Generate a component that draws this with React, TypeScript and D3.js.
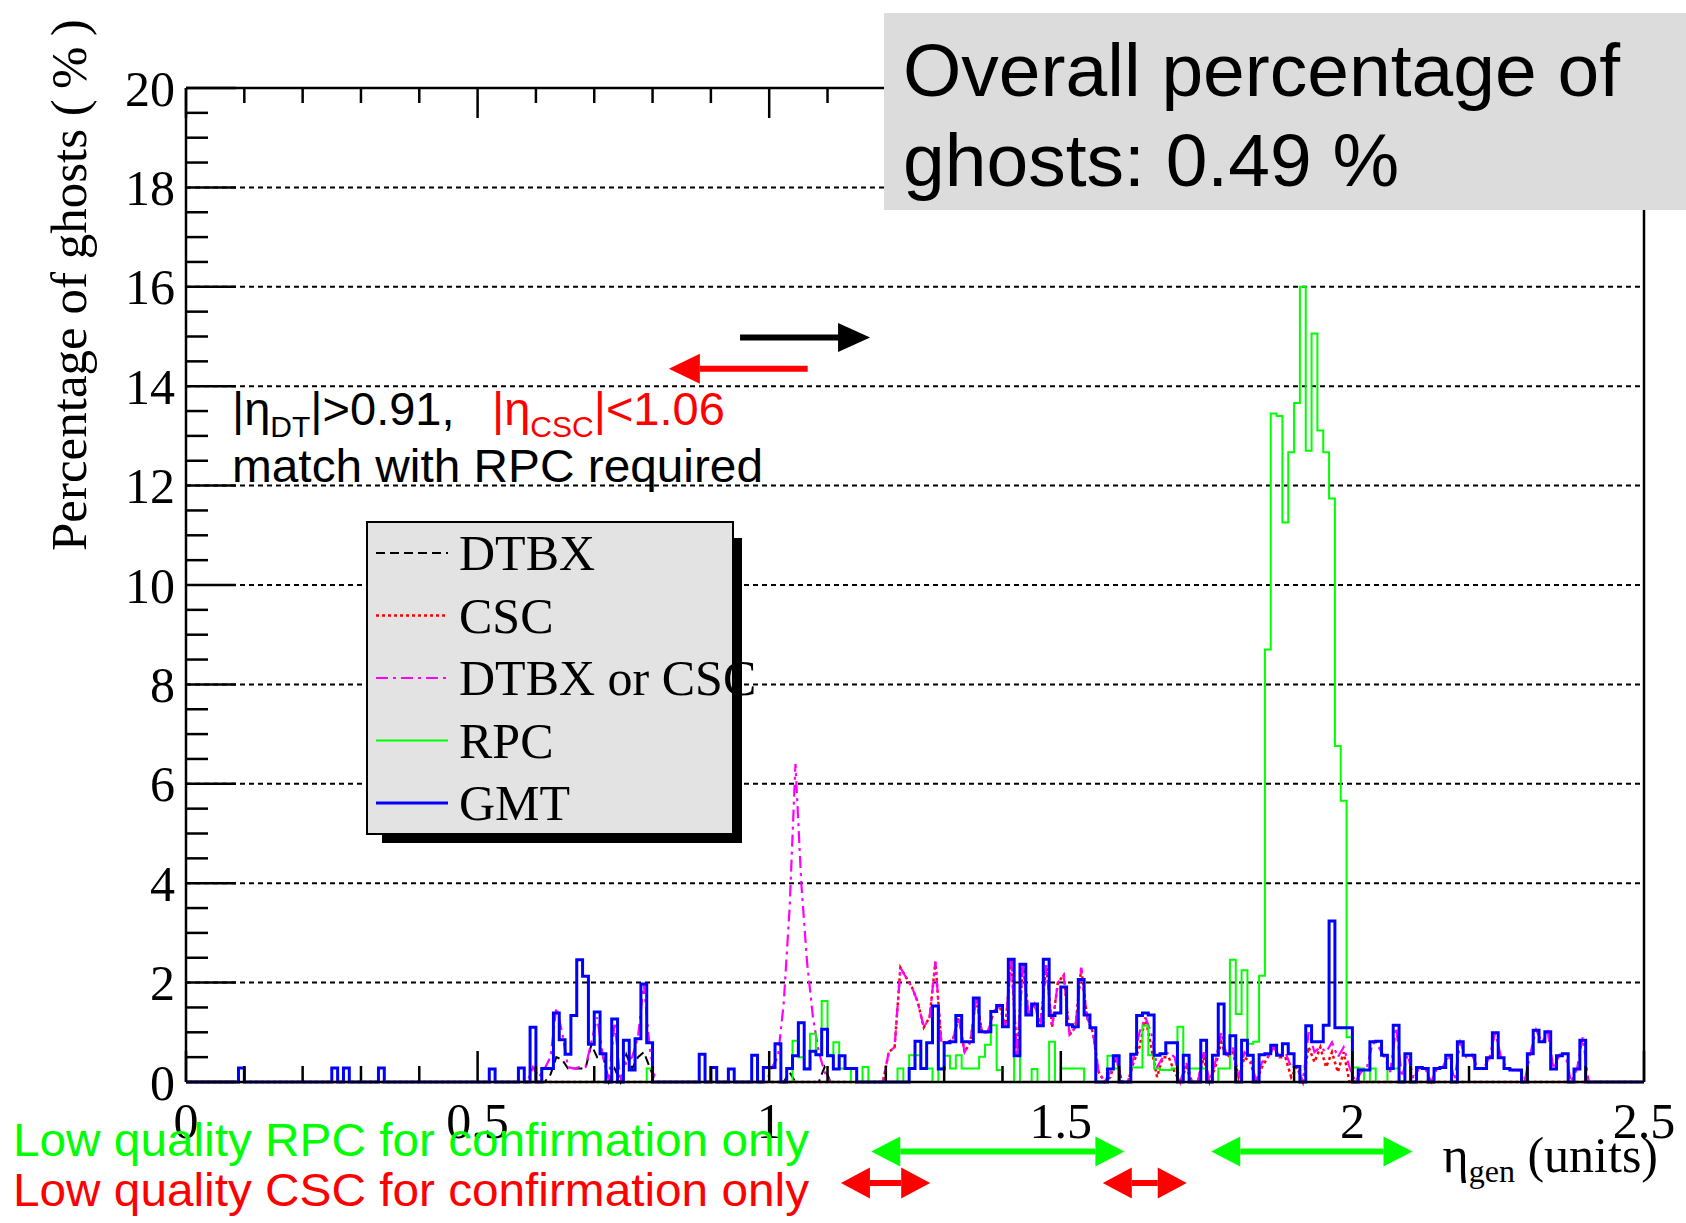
import React from 'react';
import * as d3 from 'd3';

// ---------- data ----------
const nBins = 250;
const binWidth = 0.01;
const xDomain = [0, 2.5];
const yDomain = [0, 20];
const xMajorTicks = [0, 0.5, 1, 1.5, 2, 2.5];
const xTickLabels = ['0', '0.5', '1', '1.5', '2', '2.5'];
const yMajorTicks = [0, 2, 4, 6, 8, 10, 12, 14, 16, 18, 20];
const yTickLabels = ['0', '2', '4', '6', '8', '10', '12', '14', '16', '18', '20'];
const gridValues = [2, 4, 6, 8, 10, 12, 14, 16, 18];

// GMT (blue, histogram)
const gmt = [
  0,0,0,0,0,0,0,0,0,0.28,
  0,0,0,0,0,0,0,0,0,0,
  0,0,0,0,0,0.28,0,0.28,0,0,
  0,0,0,0.28,0,0,0,0,0,0,
  0,0,0,0,0,0,0,0,0,0,
  0,0,0.26,0,0,0,0,0.28,0,1.1,
  0,0.27,0.27,1.39,0.85,0.56,1.34,2.46,2.13,0.76,
  1.41,0.57,0,1.27,0,0.84,0.24,0.87,1.97,0.79,
  0,0,0,0,0,0,0,0,0.56,0,
  0.29,0,0,0.26,0,0,0,0.54,0,0.29,
  0.29,0.77,0,0.27,0.53,1.19,0.26,0.62,0.55,1.06,
  0.53,0.26,0.53,0.27,0.27,0,0,0,0,0,
  0,0,0,0,0.27,0.82,0.27,0.79,1.53,0.26,
  0.79,0.81,1.34,0.81,0.81,1.69,1.01,1.01,1.42,1.54,
  1.11,2.47,0.53,2.37,1.35,1.57,1.13,2.47,1.34,1.39,
  1.91,1.15,1.11,2.06,1.35,1.09,0,0,0.26,0.53,
  0,0,0.56,1.34,1.39,1.35,0.54,0.57,0.79,0.79,
  0,0.54,0,0,0.84,0,0.54,1.57,0.57,0.93,
  0,0.84,0.54,0,0.55,0.57,0.74,0.54,0.77,0.57,
  0.31,0,1.13,0.81,0.81,1.14,3.24,1.09,1.09,1.09,
  0,0.24,0.24,0.81,0.82,0.54,0.27,1.14,0,0.57,
  0,0.29,0.27,0,0.27,0.29,0.54,0,0.81,0.54,
  0.54,0.27,0.27,0.49,0.99,0.49,0.27,0.24,0.24,0,
  0.57,1.04,0.81,1.01,0.26,0.53,0.57,0,0.26,0.84,
  0,0,0,0,0,0,0,0,0,0,
];

// RPC (green, histogram)
const rpc = [
  0,0,0,0,0,0,0,0,0,0,
  0,0,0,0,0,0,0,0,0,0,
  0,0,0,0,0,0,0,0,0,0,
  0,0,0,0,0,0,0,0,0,0,
  0,0,0,0,0,0,0,0,0,0,
  0,0,0,0,0,0,0,0,0,0,
  0,0,0,0,0,0,0,0,0,0,
  0,0,0,0,0,0,0,0,0,0.27,
  0,0,0,0,0,0,0,0,0,0,
  0,0,0,0,0,0,0,0,0,0,
  0,0,0,0,0.83,0.5,0.27,0.97,0.55,1.63,
  0.55,0.8,0.27,0.27,0,0,0.3,0,0,0,
  0,0,0.27,0,0.54,0.54,0.27,0.27,0,0.27,
  0.53,0.27,0.54,0.27,0.27,0.27,0.51,0.75,1.14,0.24,
  0,0,0.53,0,0,0.26,0,0,0.81,0,
  0.27,0.27,0.27,0.27,0,0,0,0,0.53,0.27,
  0,0,0.29,0.29,1.13,0.54,0.27,0.24,0.24,0.27,
  1.11,0.54,0.27,0.27,0.27,0,0,0.27,0.27,2.46,
  1.37,2.25,0.77,0.81,2.14,8.7,13.45,13.4,11.26,12.67,
  13.66,16.0,12.7,15.06,13.11,12.67,11.74,6.76,5.66,0.9,
  0.29,0.27,0,0.27,0,0,0.27,0.27,0,0,
  0,0,0,0,0,0,0,0,0,0,
  0,0,0,0,0,0,0,0,0,0,
  0,0,0,0,0,0,0,0,0,0,
  0,0,0,0,0,0,0,0,0,0,
];

// CSC (red dotted, polyline)
const csc = [
  0,0,0,0,0,0,0,0,0,0,
  0,0,0,0,0,0,0,0,0,0,
  0,0,0,0,0,0,0,0,0,0,
  0,0,0,0,0,0,0,0,0,0,
  0,0,0,0,0,0,0,0,0,0,
  0,0,0,0,0,0,0,0,0,0,
  0,0,0,0,0,0,0,0,0,0,
  0,0,0,0,0,0,0,0,0,0,
  0,0,0,0,0,0,0,0,0,0,
  0,0,0,0,0,0,0,0,0,0,
  0,0,0,0,0,0,0,0,0,0,
  0,0,0,0,0,0,0,0,0,0,
  0.6,0.7,2.3,2.1,1.9,1.6,1.1,1.3,2.42,0.8,
  0.8,0.85,1.3,0.6,0.81,1.69,1.0,1.0,1.42,1.54,
  1.11,2.47,0.53,2.37,1.35,1.57,1.13,2.35,1.1,2.0,
  2.15,0.95,1.1,2.3,1.3,1.0,0.2,0,0.1,0.5,
  0,0,0.4,0.7,1.3,0.7,0.1,0.5,0.5,0.2,
  0,0.3,0,0,0.5,0,0.3,0.8,0.5,0.6,
  0.1,0.5,0.4,0,0.3,0.5,0.7,0.5,0.5,0.1,
  0.3,0,0.7,0.4,0.7,0.3,0.6,0.2,0.6,0,
  0,0,0,0,0,0,0,0,0,0,
  0,0,0,0,0,0,0,0,0,0,
  0,0,0,0,0,0,0,0,0,0,
  0,0,0,0,0,0,0,0,0,0,
  0,0,0,0,0,0,0,0,0,0,
];

// DTBX or CSC (magenta dash-dot, polyline)
const dtOrCsc = [
  0,0,0,0,0,0,0,0,0,0,
  0,0,0,0,0,0,0,0,0,0,
  0,0,0,0,0,0,0,0,0,0,
  0,0,0,0,0,0,0,0,0,0,
  0,0,0,0,0,0,0,0,0,0,
  0,0,0,0,0,0,0,0,0,0.3,
  0.1,0.27,0.5,1.5,1.0,0.3,0.27,0.3,0.3,0.8,
  1.3,0.5,0.05,1.2,0,0.4,0.5,0.9,1.97,0.7,
  0,0,0,0,0,0,0,0,0,0,
  0,0,0,0,0,0,0,0,0,0,
  0.3,0.5,1.6,3.5,6.4,4.0,2.4,1.3,0.6,0.2,
  0,0,0,0,0,0,0,0,0,0,
  0.6,0.7,2.3,2.1,1.9,1.6,1.1,1.3,2.42,0.8,
  0.8,0.85,1.3,0.6,0.81,1.69,1.0,1.0,1.42,1.54,
  1.11,2.47,0.53,2.37,1.35,1.57,1.13,2.35,1.1,2.0,
  2.15,0.95,1.1,2.3,1.3,1.0,0.2,0,0.2,0.5,
  0,0,0.5,1.0,1.3,1.0,0.3,0.5,0.6,0.5,
  0,0.4,0,0,0.6,0,0.4,1.0,0.5,0.7,
  0.1,0.6,0.5,0,0.4,0.5,0.7,0.5,0.6,0.3,
  0.3,0,1.0,0.6,0.7,0.6,0.8,0.5,0.7,0.3,
  0,0.2,0.3,0.8,0.7,0.5,0.2,1.1,0.1,0.55,
  0.05,0.3,0.27,0,0.27,0.3,0.55,0.05,0.8,0.5,
  0.55,0.27,0.27,0.5,1.0,0.49,0.27,0.24,0.24,0,
  0.57,1.05,0.8,1.0,0.26,0.55,0.57,0,0.26,0.9,
  0,0,0,0,0,0,0,0,0,0,
];

// DTBX (black dashed, polyline)
const dtbx = [
  0,0,0,0,0,0,0,0,0,0,
  0,0,0,0,0,0,0,0,0,0,
  0,0,0,0,0,0,0,0,0,0,
  0,0,0,0,0,0,0,0,0,0,
  0,0,0,0,0,0,0,0,0,0,
  0,0,0,0,0,0,0,0,0,0,
  0,0,0.15,0.5,0.45,0.27,0.27,0.27,0.27,0.75,
  0.5,0.55,0,0.27,0,0.55,0.27,0.5,0.6,0.3,
  0,0,0,0,0,0,0,0,0,0,
  0,0,0,0,0,0,0,0,0,0,
  0,0,0,0.2,0,0,0,0,0,0.3,
  0,0,0,0,0,0,0,0,0,0,
  0,0,0,0,0,0,0,0,0,0,
  0,0,0,0,0,0,0,0,0,0,
  0,0,0,0,0,0,0,0,0,0,
  0,0,0,0,0,0,0,0,0,0,
  0,0,0,0,0,0,0,0,0,0,
  0,0,0,0,0,0,0,0,0,0,
  0,0,0,0,0,0,0,0,0,0,
  0,0,0,0,0,0,0,0,0,0,
  0,0,0,0,0,0,0,0,0,0,
  0,0,0,0,0,0,0,0,0,0,
  0,0,0,0,0,0,0,0,0,0,
  0,0,0,0,0,0,0,0,0,0,
  0,0,0,0,0,0,0,0,0,0,
];

const legendLabels = ['DTBX', 'CSC', 'DTBX or CSC', 'RPC', 'GMT'];

const SERIF = '"Liberation Serif", "Times New Roman", Times, serif';
const SANS = '"Liberation Sans", Arial, Helvetica, sans-serif';

const GREEN = '#00ff00';
const RED = '#ff0000';
const BLUE = '#0000ff';
const MAGENTA = '#ff00ff';

const styles = {
  dtbx: { color: '#000000', dash: '9,5', width: 2 },
  csc: { color: RED, dash: '3,3', width: 2.5 },
  dtOrCsc: { color: MAGENTA, dash: '12,5,3,5', width: 2.2 },
  rpc: { color: GREEN, dash: undefined as string | undefined, width: 2 },
  gmt: { color: BLUE, dash: undefined as string | undefined, width: 3 },
};

function arrowShape(
  x1: number, x2: number, yc: number, headLen: number, half: number,
  shaft: number, color: string, double: boolean, key: string
) {
  const dir = x2 > x1 ? 1 : -1;
  const sStart = double ? x1 + dir * headLen : x1;
  const sEnd = x2 - dir * headLen;
  const heads = [
    <polygon key="h2" points={`${x2},${yc} ${x2 - dir * headLen},${yc - half} ${x2 - dir * headLen},${yc + half}`} fill={color} />,
  ];
  if (double) {
    heads.push(
      <polygon key="h1" points={`${x1},${yc} ${x1 + dir * headLen},${yc - half} ${x1 + dir * headLen},${yc + half}`} fill={color} />
    );
  }
  return (
    <g key={key}>
      <line x1={sStart} x2={sEnd} y1={yc} y2={yc} stroke={color} strokeWidth={shaft} />
      {heads}
    </g>
  );
}

export default function App() {
  const W = 1686, H = 1223;
  const L = 186, R = 1644, T = 88, B = 1082;
  const x = d3.scaleLinear().domain(xDomain).range([L, R]);
  const y = d3.scaleLinear().domain(yDomain).range([B, T]);

  const histPath = (vals: number[]) => {
    const pts: [number, number][] = vals.map((v, i) => [i * binWidth, v]);
    pts.push([nBins * binWidth, vals[vals.length - 1]]);
    return d3.line<[number, number]>()
      .x(d => x(d[0]))
      .y(d => y(d[1]))
      .curve(d3.curveStepAfter)(pts) || '';
  };
  const polyPath = (vals: number[]) => {
    const pts: [number, number][] = vals.map((v, i) => [(i + 0.5) * binWidth, v]);
    return d3.line<[number, number]>().x(d => x(d[0])).y(d => y(d[1]))(pts) || '';
  };

  const yMinor = d3.range(0, 20.001, 0.5);
  const xMinor = d3.range(0, 2.5001, 0.1);

  const legendStyles = [styles.dtbx, styles.csc, styles.dtOrCsc, styles.rpc, styles.gmt];

  return (
    <svg width={W} height={H} style={{ position: 'absolute', left: 0, top: 0, background: '#fff' }}>
      <rect x={0} y={0} width={W} height={H} fill="#fff" />

      {/* grid */}
      {gridValues.map(v => (
        <line key={'g' + v} x1={L} x2={R} y1={y(v)} y2={y(v)} stroke="#000" strokeWidth={2} strokeDasharray="5,4" />
      ))}

      {/* data */}
      <path d={polyPath(dtbx)} fill="none" stroke={styles.dtbx.color} strokeWidth={styles.dtbx.width} strokeDasharray={styles.dtbx.dash} />
      <path d={polyPath(csc)} fill="none" stroke={styles.csc.color} strokeWidth={styles.csc.width} strokeDasharray={styles.csc.dash} />
      <path d={polyPath(dtOrCsc)} fill="none" stroke={styles.dtOrCsc.color} strokeWidth={styles.dtOrCsc.width} strokeDasharray={styles.dtOrCsc.dash} />
      <path d={histPath(rpc)} fill="none" stroke={styles.rpc.color} strokeWidth={styles.rpc.width} />
      <path d={histPath(gmt)} fill="none" stroke={styles.gmt.color} strokeWidth={styles.gmt.width} />

      {/* frame */}
      <line x1={L} x2={R} y1={T} y2={T} stroke="#000" strokeWidth={2.5} />
      <line x1={R} x2={R} y1={T} y2={B} stroke="#000" strokeWidth={2.5} />
      <line x1={L} x2={L} y1={T} y2={B} stroke="#000" strokeWidth={2.5} />
      <line x1={L} x2={R} y1={B} y2={B} stroke="#000" strokeWidth={2.5} />

      {/* y ticks */}
      {yMinor.map(v => {
        const major = Math.abs(v / 2 - Math.round(v / 2)) < 1e-6;
        return <line key={'yt' + v} x1={L} x2={L + (major ? 50 : 22)} y1={y(v)} y2={y(v)} stroke="#000" strokeWidth={2.5} />;
      })}
      {/* x ticks bottom and top */}
      {xMinor.map(v => {
        const major = Math.abs(v / 0.5 - Math.round(v / 0.5)) < 1e-6;
        const len = major ? 31 : 16;
        return (
          <g key={'xt' + v.toFixed(1)}>
            <line x1={x(v)} x2={x(v)} y1={B} y2={B - len} stroke="#000" strokeWidth={2.5} />
            <line x1={x(v)} x2={x(v)} y1={T} y2={T + (major ? 30 : 15)} stroke="#000" strokeWidth={2.5} />
          </g>
        );
      })}

      {/* y tick labels */}
      {yMajorTicks.map((v, i) => (
        <text key={'yl' + v} x={175} y={y(v)} dy="0.35em" textAnchor="end" fontFamily={SERIF} fontSize={50} fill="#000">{yTickLabels[i]}</text>
      ))}
      {/* x tick labels */}
      {xMajorTicks.map((v, i) => (
        <text key={'xl' + v} x={x(v)} y={1138} textAnchor="middle" fontFamily={SERIF} fontSize={50} fill="#000">{xTickLabels[i]}</text>
      ))}

      {/* axis titles */}
      <text transform="translate(86,551) rotate(-90)" fontFamily={SERIF} fontSize={51} fill="#000">Percentage of ghosts (&#8201;%&#8201;)</text>
      <text x={1658} y={1172} textAnchor="end" fontFamily={SERIF} fontSize={50} fill="#000">
        <tspan>η</tspan>
        <tspan fontSize={32} dy={10}>gen</tspan>
        <tspan dy={-10}> (units)</tspan>
      </text>

      {/* annotation */}
      <text x={232} y={425} fontFamily={SANS} fontSize={47} fill="#000">
        <tspan>|η</tspan><tspan fontSize={30} dy={12}>DT</tspan><tspan dy={-12}>|&gt;0.91,</tspan>
      </text>
      <text x={492} y={425} fontFamily={SANS} fontSize={47} fill={RED}>
        <tspan>|η</tspan><tspan fontSize={30} dy={12}>CSC</tspan><tspan dy={-12}>|&lt;1.06</tspan>
      </text>
      <text x={232} y={482} fontFamily={SANS} fontSize={47} fill="#000" textLength={531} lengthAdjust="spacingAndGlyphs">match with RPC required</text>

      {/* arrows inside plot */}
      {arrowShape(x(0.95), x(1.173), y(14.98), 32, 14.5, 6, '#000', false, 'ab')}
      {arrowShape(x(1.066), x(0.828), y(14.35), 31, 15, 6, RED, false, 'ar')}

      {/* legend */}
      <rect x={382} y={538} width={360} height={305} fill="#000" />
      <rect x={367} y={522} width={366} height={312} fill="#e3e3e3" stroke="#000" strokeWidth={2} />
      {legendLabels.map((lab, i) => {
        const ly = 553 + i * 62.5;
        const st = legendStyles[i];
        return (
          <g key={'lg' + i}>
            <line x1={376} x2={448} y1={ly} y2={ly} stroke={st.color} strokeWidth={st.width} strokeDasharray={st.dash} />
            <text x={459} y={ly + 17} fontFamily={SERIF} fontSize={50} fill="#000">{lab}</text>
          </g>
        );
      })}

      {/* bottom annotations */}
      <text x={13} y={1156} fontFamily={SANS} fontSize={46} fill={GREEN} textLength={796} lengthAdjust="spacingAndGlyphs">Low quality RPC for confirmation only</text>
      <text x={13} y={1206} fontFamily={SANS} fontSize={46} fill={RED} textLength={796} lengthAdjust="spacingAndGlyphs">Low quality CSC for confirmation only</text>
      {arrowShape(x(1.175), x(1.609), 1151.5, 29, 15, 6, GREEN, true, 'g1')}
      {arrowShape(x(1.758), x(2.103), 1151.5, 29, 15, 6, GREEN, true, 'g2')}
      {arrowShape(x(1.123), x(1.276), 1183, 29, 15.5, 6, RED, true, 'r1')}
      {arrowShape(x(1.572), x(1.716), 1183, 29, 15.5, 6, RED, true, 'r2')}

      {/* overall box */}
      <rect x={884} y={13} width={W - 884} height={197} fill="#dcdcdc" />
      <text x={903} y={96} fontFamily={SANS} fontSize={75} fill="#000">Overall percentage of</text>
      <text x={903} y={186} fontFamily={SANS} fontSize={75} fill="#000">ghosts: 0.49 %</text>
    </svg>
  );
}
